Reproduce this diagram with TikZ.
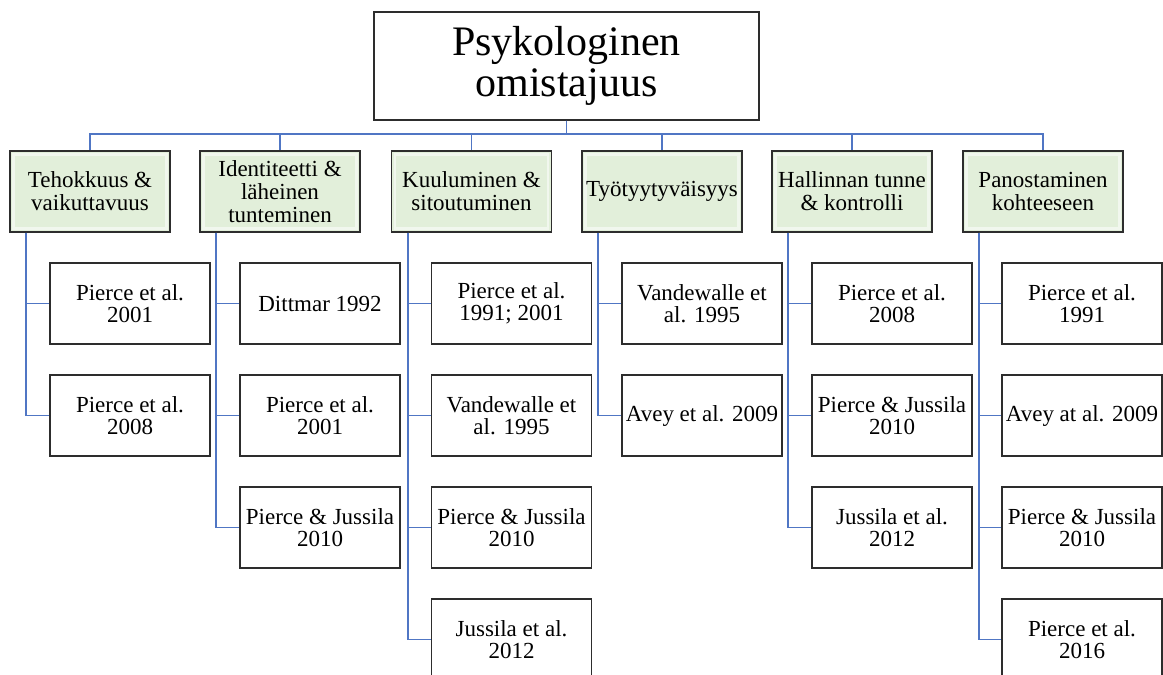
\documentclass[tikz,border=0pt]{standalone}
\usepackage{fontspec}
\setmainfont{Liberation Serif}
\usetikzlibrary{calc}
\definecolor{catfill}{RGB}{226,239,218}
\definecolor{linkblue}{RGB}{80,118,196}
\definecolor{boxedge}{RGB}{45,45,45}
\tikzset{
  rootbox/.style={draw=boxedge, line width=1.3pt, fill=white,
    minimum width=385pt, minimum height=108pt, align=center, inner sep=0pt,
    font=\fontsize{42}{41}\selectfont},
  catbox/.style={draw=boxedge, line width=1.3pt, fill=catfill,
    minimum width=160pt, minimum height=81pt, align=center, inner sep=0pt,
    font=\fontsize{23}{23}\selectfont,
    path picture={
      \draw[white, opacity=0.55, line width=2.5pt]
        ([shift={(3.5pt,3.5pt)}]path picture bounding box.south west) rectangle
        ([shift={(-3.5pt,-3.5pt)}]path picture bounding box.north east);
    }},
  leafbox/.style={draw=boxedge, line width=1.3pt, fill=white,
    minimum width=160pt, minimum height=81pt, align=center, inner sep=0pt,
    font=\fontsize{23}{22}\selectfont},
  link/.style={draw=linkblue, line width=1.9pt}
}
\begin{document}
\begin{tikzpicture}[x=1pt, y=-1pt]
  \useasboundingbox (0,0) rectangle (1163,675);
  \clip (0,0) rectangle (1163,675);

  % root
  \node[rootbox] (root) at (566.5,66) {Psykologinen\\omistajuus};
  \coordinate (bus) at (0,134);

  % categories
  \node[catbox] (c1) at (90,191.5)   {Tehokkuus \&\\vaikuttavuus};
  \node[catbox] (c2) at (280,191.5)  {Identiteetti \&\\läheinen\\tunteminen};
  \node[catbox] (c3) at (471.5,191.5){Kuuluminen \&\\sitoutuminen};
  \node[catbox] (c4) at (662,191.5)  {Työtyytyväisyys};
  \node[catbox] (c5) at (852,191.5)  {Hallinnan tunne\\\& kontrolli};
  \node[catbox] (c6) at (1043,191.5) {Panostaminen\\kohteeseen};

  % references, column by column
  \node[leafbox] (l11) at (130,303.5) {Pierce et al.\\2001};
  \node[leafbox] (l12) at (130,415.5) {Pierce et al.\\2008};

  \node[leafbox] (l21) at (320,303.5) {Dittmar 1992};
  \node[leafbox] (l22) at (320,415.5) {Pierce et al.\\2001};
  \node[leafbox] (l23) at (320,527.5) {Pierce \& Jussila\\2010};

  \node[leafbox] (l31) at (511.5,303.5) {Pierce et al.\\1991; 2001};
  \node[leafbox] (l32) at (511.5,415.5) {Vandewalle et\\al. 1995};
  \node[leafbox] (l33) at (511.5,527.5) {Pierce \& Jussila\\2010};
  \node[leafbox] (l34) at (511.5,639.5) {Jussila et al.\\2012};

  \node[leafbox] (l41) at (702,303.5) {Vandewalle et\\al. 1995};
  \node[leafbox] (l42) at (702,415.5) {Avey et al. 2009};

  \node[leafbox] (l51) at (892,303.5) {Pierce et al.\\2008};
  \node[leafbox] (l52) at (892,415.5) {Pierce \& Jussila\\2010};
  \node[leafbox] (l53) at (892,527.5) {Jussila et al.\\2012};

  \node[leafbox] (l61) at (1082,303.5) {Pierce et al.\\1991};
  \node[leafbox] (l62) at (1082,415.5) {Avey at al. 2009};
  \node[leafbox] (l63) at (1082,527.5) {Pierce \& Jussila\\2010};
  \node[leafbox] (l64) at (1082,639.5) {Pierce et al.\\2016};

  % root to categories
  \foreach \c in {c1,c2,c3,c4,c5,c6}
    \draw[link] (root.south) -- (root.south |- bus) -| (\c.north);

  % category spines to references
  \foreach \c/\leaves in {c1/{l11,l12}, c2/{l21,l22,l23}, c3/{l31,l32,l33,l34},
                          c4/{l41,l42}, c5/{l51,l52,l53}, c6/{l61,l62,l63,l64}}
    \foreach \l in \leaves
      \draw[link] ($(\c.south west)+(17,0)$) |- (\l.west);
\end{tikzpicture}
\end{document}
